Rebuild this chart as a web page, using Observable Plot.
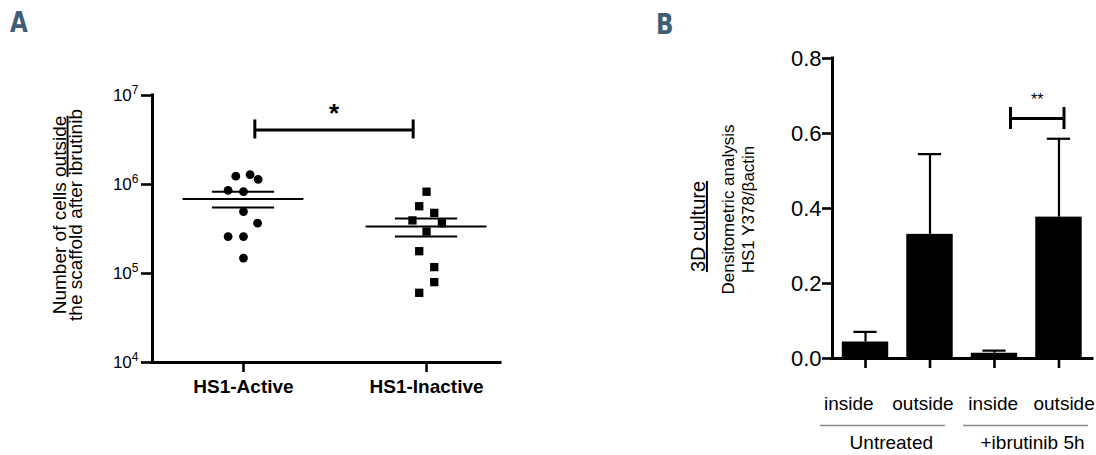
<!DOCTYPE html>
<html>
<head>
<meta charset="utf-8">
<script src="https://cdn.jsdelivr.net/npm/d3@7"></script>
<script src="https://cdn.jsdelivr.net/npm/@observablehq/plot@0.6"></script>
<style>
  body { margin: 0; background: #fff; }
  #wrap { position: relative; width: 1096px; height: 455px; overflow: hidden; background: #fff; }
  .panel { position: absolute; top: 0; }
  .letter { position: absolute; font-family: "Liberation Sans Narrow", "DejaVu Sans Condensed", "DejaVu Sans", sans-serif; font-weight: bold; font-size: 29px; color: #3f5d77; line-height: 1; transform: scaleX(0.88); transform-origin: left top; }
</style>
</head>
<body>
<div id="wrap">
  <div class="letter" style="left:10px; top:8px;">A</div>
  <div class="letter" style="left:656px; top:10px;">B</div>
  <div class="panel" id="pa" style="left:0px;"></div>
  <div class="panel" id="pb" style="left:600px;"></div>
</div>
<script>
// ---------- Panel A data ----------
const groupsA = ["HS1-Active", "HS1-Inactive"];
const activeValues = [1.24e6, 1.29e6, 1.14e6, 8.6e5, 8.3e5, 4.97e5, 3.68e5, 2.6e5, 2.6e5, 1.49e5];
const activeJitter = [-0.042, 0.036, 0.08, -0.084, 0, 0, 0.077, -0.084, 0, 0];
const inactiveValues = [8.3e5, 5.7e5, 4.8e5, 3.95e5, 3.67e5, 2.96e5, 1.78e5, 1.18e5, 8.0e4, 6.07e4];
const inactiveJitter = [0, -0.04, 0.042, -0.077, 0.084, 0, -0.04, 0.042, 0.042, -0.04];
const yTicksA = [1e4, 1e5, 1e6, 1e7];
const yLabelA = ["Number of cells outside", "the scaffold after ibrutinib"];
const sigA = [{from: 0, to: 1, y: 4.1e6, text: "*"}];

// ---------- Panel B data ----------
const barLabels = ["inside", "outside", "inside", "outside"];
const barValues = [0.044, 0.331, 0.014, 0.377];
const barErrors = [0.027, 0.214, 0.007, 0.209];
const groupsB = ["Untreated", "+ibrutinib 5h"];
const yTicksB = [0, 0.2, 0.4, 0.6, 0.8];
const yLabelB = ["3D culture", "Densitometric analysis", "HS1 Y378/\u03b2actin"];
const sigB = [{from: 2, to: 3, y: 0.64, text: "**"}];

// ---------- derived tables ----------
const pointsA = [
  ...activeValues.map((v, k) => ({g: 0, v, j: activeJitter[k]})),
  ...inactiveValues.map((v, k) => ({g: 1, v, j: inactiveJitter[k]}))
];
const statsA = [activeValues, inactiveValues].map((vals, i) => ({
  i, mean: d3.mean(vals), sem: d3.deviation(vals) / Math.sqrt(vals.length)
}));
const bars = barValues.map((v, i) => ({i, v, e: barErrors[i], label: barLabels[i]}));
// layout of the category labels under the bars (label centre offsets, bar-index units)
const labelShift = [-0.26, -0.11, -0.02, 0.08];
const catLabels = barLabels.map((t, i) => ({i, t, x: i + labelShift[i]}));
// group annotation layout (start/end/label centre, in bar-index units)
const groupLayout = [
  {name: groupsB[0], start: -0.70, end: 1.24, mid: 0.40},
  {name: groupsB[1], start: 1.52, end: 3.46, mid: 2.59}
];

const font = '"Liberation Sans", Arial, Helvetica, sans-serif';

const xDomainA = [-0.497, 1.404];
const plotA = Plot.plot({
  width: 520, height: 455,
  marginLeft: 152, marginRight: 20, marginTop: 95, marginBottom: 93,
  style: {fontFamily: font, background: "transparent", color: "#000", overflow: "visible"},
  x: {type: "linear", domain: xDomainA, axis: null},
  y: {type: "log", domain: [1e4, 1e7], axis: null},
  marks: [
    Plot.axisY({ticks: yTicksA, tickFormat: d => "10^" + Math.round(Math.log10(d)), tickSize: 11, tickPadding: 3, fontSize: 17, strokeWidth: 2.6}),
    Plot.axisX({ticks: [0, 1], tickFormat: i => groupsA[i], tickSize: 10, tickPadding: 7, fontSize: 19, fontWeight: "bold", strokeWidth: 2.6}),
    Plot.ruleX([xDomainA[0]], {strokeWidth: 3, strokeLinecap: "square"}),
    Plot.ruleY([1e4], {strokeWidth: 3, strokeLinecap: "square"}),
    Plot.dot(pointsA.filter(d => d.g === 0), {x: d => d.g + d.j, y: "v", r: 4.4, fill: "#000", stroke: "none", symbol: "circle"}),
    Plot.dot(pointsA.filter(d => d.g === 1), {x: d => d.g + d.j, y: "v", r: 4.7, fill: "#000", stroke: "none", symbol: "square"}),
    Plot.ruleY(statsA, {y: "mean", x1: d => d.i - 0.33, x2: d => d.i + 0.33, strokeWidth: 2}),
    Plot.ruleY(statsA, {y: d => d.mean + d.sem, x1: d => d.i - 0.17, x2: d => d.i + 0.17, strokeWidth: 2}),
    Plot.ruleY(statsA, {y: d => d.mean - d.sem, x1: d => d.i - 0.17, x2: d => d.i + 0.17, strokeWidth: 2}),
    Plot.ruleY(sigA, {y: "y", x1: d => d.from + 0.062, x2: d => d.to - 0.073, strokeWidth: 3}),
    Plot.ruleX(sigA, {x: d => d.from + 0.062, y1: "y", y2: "y", insetTop: -10, insetBottom: -9, strokeWidth: 3}),
    Plot.ruleX(sigA, {x: d => d.to - 0.073, y1: "y", y2: "y", insetTop: -10, insetBottom: -9, strokeWidth: 3}),
    Plot.text(sigA, {x: d => (d.from + 0.062 + d.to - 0.073) / 2, y: "y", text: "text", dy: -16, fontSize: 26, fontWeight: "bold"}),
    Plot.text([yLabelA[0]], {frameAnchor: "left", textAnchor: "middle", lineAnchor: "middle", rotate: -90, dx: -93, dy: -14, fontSize: 19}),
    Plot.text([yLabelA[1]], {frameAnchor: "left", textAnchor: "middle", lineAnchor: "middle", rotate: -90, dx: -77, dy: -14, fontSize: 19})
  ]
});

const xDomainB = [-0.512, 3.52];
const plotB = Plot.plot({
  width: 496, height: 455,
  marginLeft: 232, marginRight: 4, marginTop: 58, marginBottom: 97,
  style: {fontFamily: font, background: "transparent", color: "#000", overflow: "visible"},
  x: {type: "linear", domain: xDomainB, axis: null},
  y: {type: "linear", domain: [0, 0.8], axis: null},
  marks: [
    Plot.rectY(bars, {x1: d => d.i - 0.36, x2: d => d.i + 0.36, y: "v", fill: "#000"}),
    Plot.ruleX(bars, {x: "i", y1: "v", y2: d => d.v + d.e, strokeWidth: 2.2}),
    Plot.ruleY(bars, {y: d => d.v + d.e, x1: d => d.i - 0.18, x2: d => d.i + 0.18, strokeWidth: 2.2}),
    Plot.axisY({ticks: yTicksB, tickFormat: d3.format(".1f"), tickSize: 10, tickPadding: 1, fontSize: 22, strokeWidth: 2.6}),
    Plot.axisX({ticks: [0, 1, 2, 3], tickFormat: () => "", tickSize: 10, strokeWidth: 2.6}),
    Plot.text(catLabels, {x: "x", text: "t", frameAnchor: "bottom", dy: 51, fontSize: 19}),
    Plot.ruleX([xDomainB[0]], {strokeWidth: 3, strokeLinecap: "square"}),
    Plot.ruleY([0], {strokeWidth: 3, strokeLinecap: "square"}),
    Plot.ruleY(sigB, {y: "y", x1: d => d.from + 0.248, x2: d => d.to + 0.078, strokeWidth: 3}),
    Plot.ruleX(sigB, {x: d => d.from + 0.248, y1: "y", y2: "y", insetTop: -11, insetBottom: -11, strokeWidth: 3}),
    Plot.ruleX(sigB, {x: d => d.to + 0.078, y1: "y", y2: "y", insetTop: -11, insetBottom: -11, strokeWidth: 3}),
    Plot.text(sigB, {x: d => (d.from + 0.248 + d.to + 0.078) / 2, y: "y", text: "text", dy: -19, fontSize: 16}),
    Plot.ruleY(groupLayout, {y: 0, x1: "start", x2: "end", dy: 67, stroke: "#8a8a8a", strokeWidth: 1.5}),
    Plot.text(groupLayout, {x: "mid", text: "name", frameAnchor: "bottom", dy: 90, fontSize: 19}),
    Plot.text([yLabelB[0]], {frameAnchor: "left", textAnchor: "middle", lineAnchor: "middle", rotate: -90, dx: -134, dy: 18, fontSize: 20}),
    Plot.text([yLabelB[1]], {frameAnchor: "left", textAnchor: "middle", lineAnchor: "middle", rotate: -90, dx: -104, dy: 1, fontSize: 17}),
    Plot.text([yLabelB[2]], {frameAnchor: "left", textAnchor: "middle", lineAnchor: "middle", rotate: -90, dx: -84, dy: 1, fontSize: 17})
  ]
});

document.getElementById("pa").appendChild(plotA);
document.getElementById("pb").appendChild(plotB);

// decorations: superscripts and underlines
const svgNS = "http://www.w3.org/2000/svg";
plotA.querySelectorAll("text").forEach(t => {
  const s = t.textContent;
  if (s === yLabelA[0]) {
    t.textContent = "";
    t.appendChild(document.createTextNode(s.replace(/outside$/, "")));
    const ts = document.createElementNS(svgNS, "tspan");
    ts.setAttribute("text-decoration", "underline");
    ts.style.textDecoration = "underline";
    ts.textContent = "outside";
    t.appendChild(ts);
  } else if (/^10\^\d$/.test(s)) {
    const [b, e] = s.split("^");
    t.textContent = "";
    t.appendChild(document.createTextNode(b));
    const ts = document.createElementNS(svgNS, "tspan");
    ts.setAttribute("font-size", "12");
    ts.setAttribute("dy", "-7");
    ts.textContent = e;
    t.appendChild(ts);
  }
});
plotB.querySelectorAll("text").forEach(t => {
  if (t.textContent === yLabelB[0]) {
    t.setAttribute("text-decoration", "underline");
    t.style.textDecoration = "underline";
  }
});
</script>
</body>
</html>
